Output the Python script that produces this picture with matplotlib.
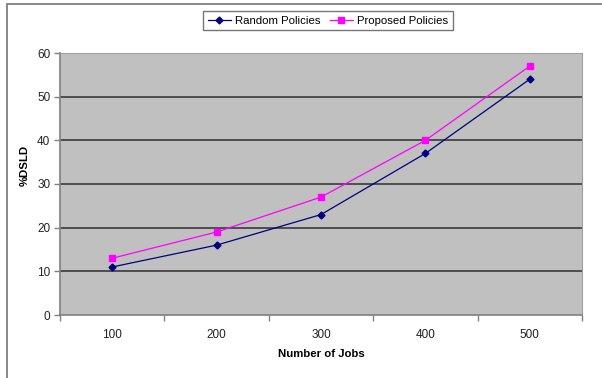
import matplotlib
matplotlib.use("Agg")
import matplotlib.pyplot as plt
from matplotlib.patches import Rectangle
from matplotlib.ticker import FixedLocator, NullFormatter

plt.rcParams['font.family'] = ['Liberation Sans', 'DejaVu Sans']

jobs = ["100", "200", "300", "400", "500"]
random_policies = [11, 16, 23, 37, 54]
proposed_policies = [13, 19, 27, 40, 57]
y_ticks = [0, 10, 20, 30, 40, 50, 60]

W, H = 602, 378
fig = plt.figure(figsize=(W / 100, H / 100), dpi=100)
fig.patch.set_facecolor("white")

# outer chart frame (open on the right and bottom edges)
fig.patches.append(Rectangle((6.5 / W, -0.1), 1.2, 1 - 4.5 / H + 0.1,
                             transform=fig.transFigure, fill=False,
                             edgecolor="#7f7f7f", linewidth=1.3))

ax = fig.add_axes([60 / W, 1 - 315 / H, 522 / W, 262 / H])
ax.set_facecolor("#c0c0c0")

x = list(range(len(jobs)))
ax.set_xlim(-0.5, len(jobs) - 0.5)
ax.set_ylim(0, 60)

for yv in y_ticks[1:-1]:
    ax.axhline(yv, color="#3a3a3a", linewidth=1.2, zorder=1)

ax.plot(x, random_policies, color="#000080", marker="D", markersize=3.5,
        linewidth=0.9, label="Random Policies", zorder=3)
ax.plot(x, proposed_policies, color="#ff00ff", marker="s", markersize=4,
        linewidth=0.9, label="Proposed Policies", zorder=3)

ax.set_yticks(y_ticks)
ax.set_yticklabels([str(v) for v in y_ticks], fontsize=8.5, color="#222222")
ax.set_xticks(x)
ax.set_xticklabels(jobs, fontsize=8.5, color="#222222")
ax.tick_params(axis="x", which="major", length=0, pad=10)
ax.xaxis.set_minor_locator(FixedLocator([i - 0.5 for i in range(len(jobs) + 1)]))
ax.xaxis.set_minor_formatter(NullFormatter())
ax.tick_params(axis="x", which="minor", length=4, color="#808080", width=1)
ax.tick_params(axis="y", length=4, color="#808080", width=1, pad=3)

for side in ("left", "bottom"):
    ax.spines[side].set_color("#808080")
    ax.spines[side].set_linewidth(1.2)
for side in ("right", "top"):
    ax.spines[side].set_color("#a0a0a0")
    ax.spines[side].set_linewidth(0.8)

ax.set_xlabel("Number of Jobs", fontsize=8.2, fontweight="bold", labelpad=6)
ax.set_ylabel("%DSLD", fontsize=8.2, fontweight="bold")
ax.yaxis.set_label_coords(-0.058, 0.57)

leg = fig.legend(loc="center", bbox_to_anchor=(328 / W, 1 - 20.5 / H), ncol=2,
                 frameon=True, fancybox=False, fontsize=8.2,
                 handlelength=2.0, handletextpad=0.4, columnspacing=0.8,
                 borderpad=0.4)
leg.get_frame().set_edgecolor("#555555")
leg.get_frame().set_linewidth(1.0)

fig.savefig("out.png", dpi=100)
